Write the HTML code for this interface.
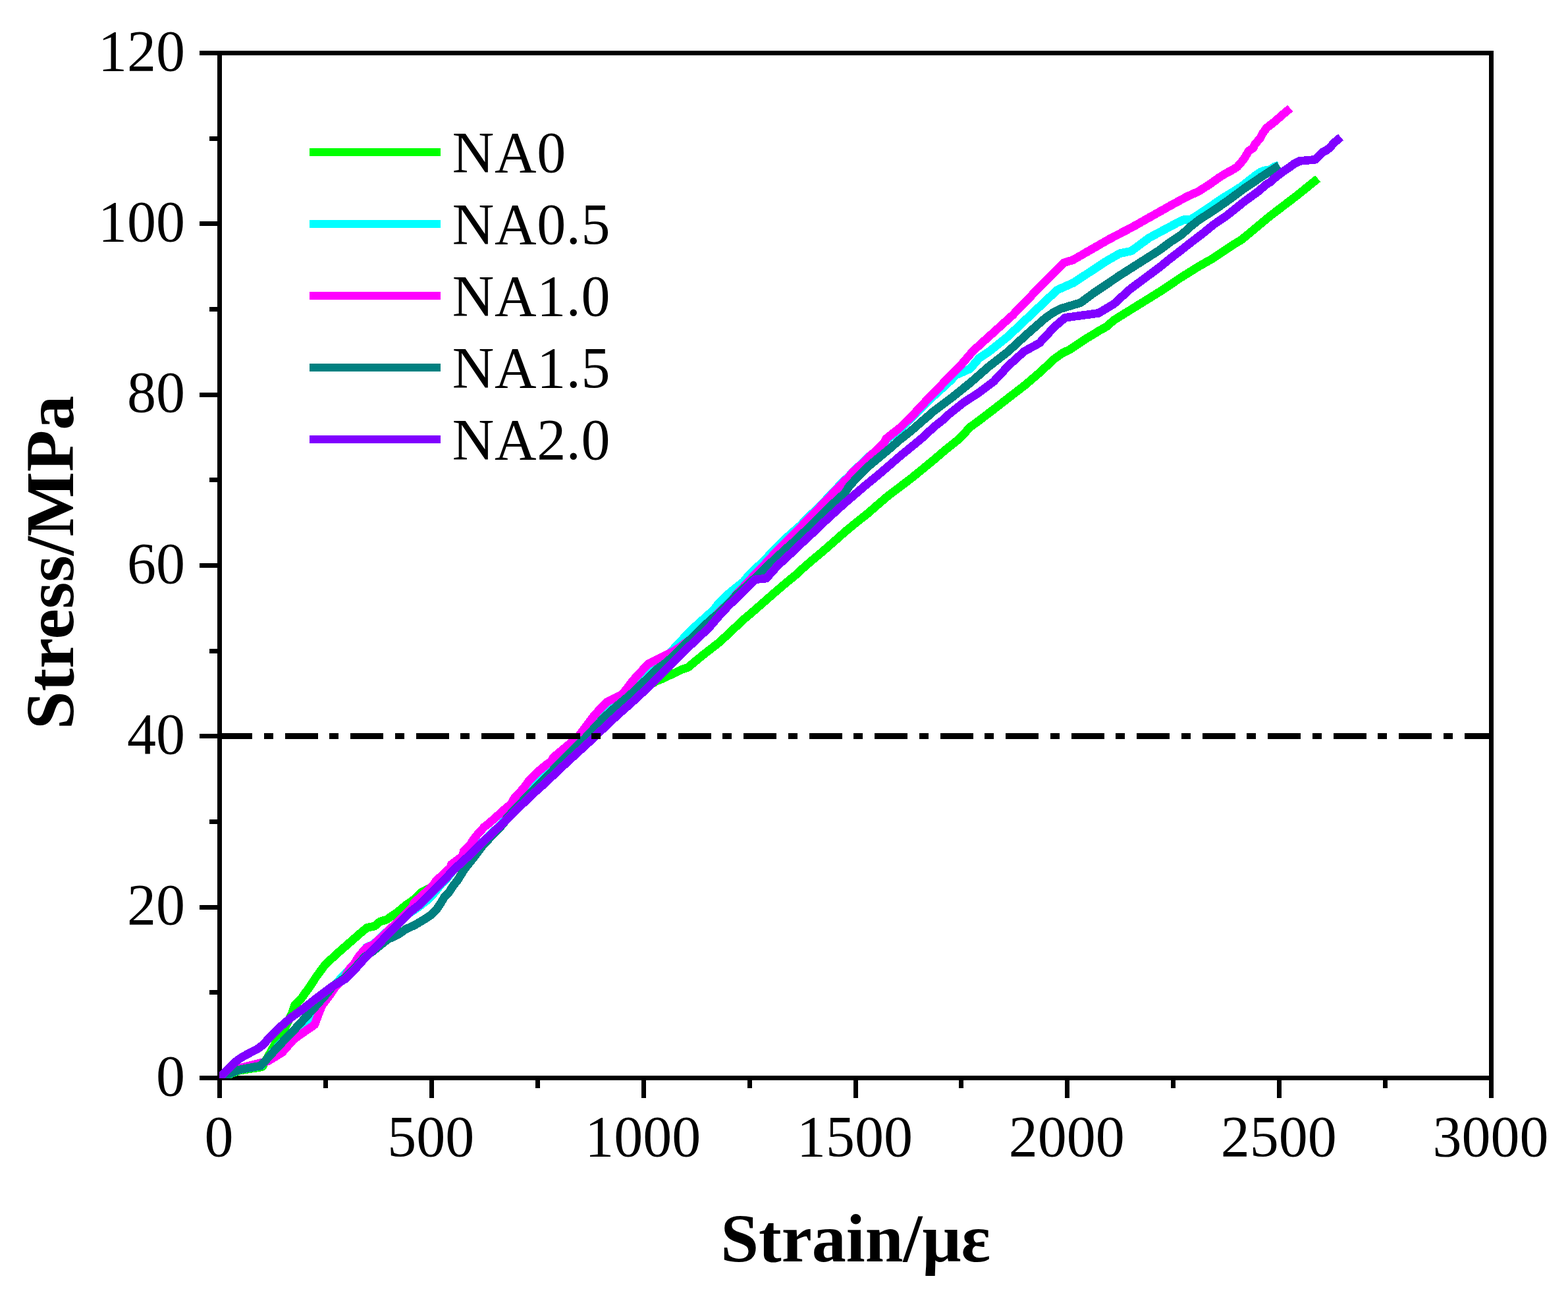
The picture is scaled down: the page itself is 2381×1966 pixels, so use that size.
<!DOCTYPE html>
<html lang="en">
<head>
<meta charset="utf-8">
<title>Stress-strain curves</title>
<style>
html,body{margin:0;padding:0;background:#fff;}
body{width:2381px;height:1966px;overflow:hidden;}
svg{display:block;}
text{font-family:"Liberation Serif","DejaVu Serif",serif;fill:#000;}
.tk{font-size:88px;}
.lb{font-size:104px;font-weight:bold;}
</style>
</head>
<body>
<svg width="2381" height="1966" viewBox="0 0 2381 1966">
<defs><clipPath id="plot"><rect x="333" y="77" width="1935" height="1560"/></clipPath></defs>
<rect x="0" y="0" width="2381" height="1966" fill="#ffffff"/>
<g fill="#000" shape-rendering="crispEdges">
<rect x="330" y="77" width="1938" height="7"/>
<rect x="330" y="1633" width="1938" height="7"/>
<rect x="330" y="77" width="7" height="1563"/>
<rect x="2261" y="77" width="7" height="1563"/>
<rect x="330" y="1636" width="7" height="31"/>
<rect x="491" y="1636" width="7" height="16"/>
<rect x="652" y="1636" width="7" height="31"/>
<rect x="813" y="1636" width="7" height="16"/>
<rect x="974" y="1636" width="7" height="31"/>
<rect x="1135" y="1636" width="7" height="16"/>
<rect x="1296" y="1636" width="7" height="31"/>
<rect x="1456" y="1636" width="7" height="16"/>
<rect x="1617" y="1636" width="7" height="31"/>
<rect x="1778" y="1636" width="7" height="16"/>
<rect x="1939" y="1636" width="7" height="31"/>
<rect x="2100" y="1636" width="7" height="16"/>
<rect x="2261" y="1636" width="7" height="31"/>
<rect x="303" y="1633" width="31" height="7"/>
<rect x="318" y="1503" width="16" height="7"/>
<rect x="303" y="1374" width="31" height="7"/>
<rect x="318" y="1244" width="16" height="7"/>
<rect x="303" y="1114" width="31" height="7"/>
<rect x="318" y="985" width="16" height="7"/>
<rect x="303" y="855" width="31" height="7"/>
<rect x="318" y="725" width="16" height="7"/>
<rect x="303" y="596" width="31" height="7"/>
<rect x="318" y="466" width="16" height="7"/>
<rect x="303" y="336" width="31" height="7"/>
<rect x="318" y="207" width="16" height="7"/>
<rect x="303" y="77" width="31" height="7"/>
</g>
<g clip-path="url(#plot)" fill="none" stroke-width="12.7" stroke-linejoin="round" stroke-linecap="butt" shape-rendering="crispEdges">
<polyline stroke="#00ff00" points="333.5,1636.5 363.3,1625.3 398.3,1619.7 416.4,1587.3 433.7,1558.8 443.5,1538.0 447.5,1526.0 456.6,1517.3 462.6,1508.6 469.1,1500.0 480.0,1483.2 493.0,1465.5 510.2,1449.1 527.1,1434.4 547.8,1416.2 557.3,1408.5 569.0,1405.9 577.2,1398.9 586.7,1396.4 596.2,1389.9 604.9,1383.8 616.1,1374.3 629.0,1365.4 639.4,1355.0 646.4,1351.5 674.0,1336.4 690.4,1319.1 709.2,1301.9 726.7,1284.6 744.9,1267.3 763.5,1250.0 772.7,1241.0 790.2,1223.7 808.1,1206.4 827.4,1189.1 845.6,1171.8 863.9,1154.6 882.9,1137.3 901.7,1120.0 921.2,1101.0 939.9,1083.7 959.5,1060.0 978.2,1045.0 997.0,1033.9 1005.7,1030.5 1023.1,1022.3 1035.7,1016.3 1044.7,1013.3 1055.1,1004.6 1065.5,996.0 1091.8,975.5 1109.1,959.7 1126.4,942.9 1143.7,928.2 1161.0,913.1 1178.3,898.0 1195.5,883.3 1212.8,869.2 1214.6,866.8 1231.8,851.8 1249.1,837.3 1266.4,822.3 1283.7,806.9 1301.0,792.7 1318.3,779.0 1335.5,763.9 1349.1,752.3 1366.4,739.3 1383.7,726.1 1401.0,712.1 1418.3,697.8 1435.5,683.1 1452.8,669.3 1460.0,662.8 1472.8,648.6 1486.1,639.0 1509.1,621.4 1532.2,603.4 1555.2,585.7 1578.3,566.0 1601.3,544.7 1612.8,536.4 1624.4,530.7 1647.4,515.4 1670.4,501.3 1680.0,496.1 1691.2,486.2 1763.2,441.6 1792.1,422.1 1820.9,404.1 1840.0,393.3 1875.1,370.0 1885.1,364.1 1927.6,328.8 1970.8,295.7 2001.1,271.2"/>
<polyline stroke="#00ffff" points="333.5,1636.5 363.3,1624.2 396.1,1618.1 420.7,1590.3 446.7,1563.5 455.3,1556.6 470.9,1545.8 473.4,1537.2 478.6,1528.5 490.0,1512.0 505.9,1497.9 526.2,1475.9 536.6,1466.4 556.5,1438.3 567.4,1433.5 579.4,1421.8 612.2,1392.5 633.1,1378.8 647.8,1367.5 658.2,1357.2 670.3,1341.6 676.3,1336.4 689.3,1320.0 708.5,1301.9 726.0,1284.6 744.2,1267.3 762.6,1250.0 767.8,1238.5 784.2,1221.2 800.6,1203.9 818.3,1186.6 834.8,1169.3 851.2,1152.1 868.5,1134.8 886.6,1117.5 915.6,1086.9 932.9,1071.3 953.7,1054.0 973.4,1033.2 981.2,1026.3 994.1,1013.3 1005.2,1003.7 1012.5,995.6 1019.4,989.5 1023.7,984.3 1049.0,957.2 1057.6,949.4 1083.6,926.0 1092.2,914.8 1106.0,901.8 1116.4,893.2 1129.4,882.8 1135.4,875.1 1143.2,867.3 1158.7,852.6 1161.3,850.0 1181.3,828.8 1199.1,812.0 1215.7,797.5 1230.3,781.9 1239.8,774.1 1254.5,758.5 1269.2,743.0 1282.1,729.3 1288.6,724.1 1294.7,716.3 1311.1,701.6 1319.8,693.0 1328.4,685.9 1343.1,671.7 1345.7,668.0 1366.4,651.6 1375.9,643.0 1388.9,630.0 1410.9,607.5 1444.0,577.3 1451.2,569.4 1472.8,560.0 1487.2,543.5 1501.6,534.1 1530.4,511.0 1605.5,440.1 1630.0,429.3 1680.4,396.2 1700.6,384.7 1717.9,381.1 1745.2,360.9 1787.0,338.6 1797.8,333.5 1807.9,333.5 1830.4,318.8 1856.3,301.0 1871.2,292.1 1885.9,282.6 1906.7,266.2 1914.4,261.0 1920.5,258.8 1929.1,257.5 1935.2,253.2 1942.1,250.6"/>
<polyline stroke="#ff00ff" points="333.5,1636.5 363.3,1621.8 390.5,1614.9 406.9,1610.9 428.5,1597.9 445.4,1578.5 451.8,1573.7 477.8,1555.6 479.9,1549.7 488.6,1527.2 497.3,1515.2 502.5,1508.3 509.4,1498.2 523.2,1484.1 531.8,1469.4 536.6,1465.1 545.2,1451.5 556.5,1438.5 567.4,1434.2 579.4,1422.7 612.2,1391.6 626.9,1376.0 628.5,1371.0 638.8,1361.5 657.0,1345.1 662.2,1337.3 683.8,1317.4 685.5,1312.2 695.0,1305.3 701.9,1300.1 704.5,1291.5 714.9,1282.0 716.6,1277.7 725.3,1266.4 735.6,1255.2 742.5,1250.0 769.0,1226.3 775.9,1221.1 781.1,1211.6 794.9,1196.9 803.6,1184.8 817.4,1171.0 831.2,1159.8 838.1,1155.4 839.8,1150.2 855.4,1137.3 865.8,1128.6 874.4,1122.6 879.1,1117.2 887.7,1105.6 900.7,1088.4 904.5,1083.7 920.9,1066.2 945.4,1053.7 961.8,1032.4 984.0,1008.2 1023.7,988.1 1032.2,982.6 1049.0,970.1 1081.8,939.0 1109.5,913.1 1118.1,902.7 1129.4,890.6 1140.6,878.5 1151.0,867.3 1161.3,856.9 1167.4,850.0 1184.3,831.8 1201.6,814.5 1210.2,805.9 1217.2,799.0 1223.2,792.0 1231.8,783.4 1240.5,774.8 1255.2,759.2 1269.9,743.7 1275.1,738.5 1282.8,730.0 1288.6,724.8 1294.7,717.0 1311.1,702.3 1319.8,693.7 1328.4,685.9 1343.1,671.2 1345.7,666.0 1366.4,649.6 1375.9,640.1 1386.3,630.0 1410.9,603.7 1461.3,551.8 1477.2,533.1 1537.7,478.4 1576.0,438.7 1614.9,399.1 1629.3,394.7 1684.0,363.3 1720.0,344.5 1760.0,321.9 1781.6,309.8 1803.2,298.1 1820.5,290.4 1837.8,279.1 1849.9,270.5 1860.0,264.0 1873.0,257.1 1879.0,253.2 1888.5,242.0 1896.3,229.0 1903.6,224.3 1904.9,219.9 1914.0,209.1 1916.6,203.5 1923.5,194.0 1934.7,185.4 1948.6,173.3 1959.2,164.5"/>
<polyline stroke="#008080" points="333.5,1636.5 363.3,1624.0 396.1,1618.0 420.7,1590.7 447.5,1562.7 476.9,1530.4 497.0,1507.7 504.6,1497.5 523.6,1484.7 537.0,1471.7 553.5,1453.1 567.1,1443.5 588.0,1426.6 606.0,1417.9 616.1,1410.6 629.5,1404.6 642.5,1396.9 655.4,1388.3 663.6,1379.6 669.3,1371.0 674.6,1362.3 682.4,1353.7 687.8,1345.1 694.8,1336.4 705.6,1319.1 719.4,1301.9 732.3,1284.6 748.3,1267.3 764.9,1250.0 770.3,1241.0 786.7,1223.7 803.1,1206.4 820.8,1189.1 837.3,1171.8 853.7,1154.6 871.0,1137.3 889.1,1120.0 917.6,1088.9 934.9,1073.3 945.3,1064.7 955.7,1056.0 966.0,1046.5 976.4,1036.2 984.2,1029.3 997.1,1016.3 1009.2,1007.7 1021.3,997.3 1030.0,988.6 1038.6,980.0 1049.0,970.1 1066.3,952.8 1081.8,939.0 1092.2,930.4 1109.5,913.1 1118.1,903.6 1135.4,888.0 1151.0,873.3 1161.3,863.0 1175.2,850.0 1180.0,845.6 1193.0,833.5 1205.9,822.3 1223.2,805.9 1236.2,793.8 1244.8,784.3 1266.4,763.5 1282.8,748.6 1290.6,736.7 1314.6,711.4 1331.8,697.0 1349.1,682.7 1366.4,667.6 1383.7,654.0 1401.0,638.8 1411.4,630.0 1415.2,626.3 1444.0,604.7 1472.8,581.6 1501.6,556.4 1530.4,534.1 1559.3,507.4 1588.1,482.2 1599.1,474.7 1609.9,468.9 1640.8,459.6 1660.3,445.2 1702.0,417.1 1760.0,380.2 1777.3,367.3 1794.6,356.0 1808.4,343.5 1820.5,334.0 1846.4,317.2 1868.0,302.0 1889.6,286.0 1916.8,267.6 1942.5,251.1"/>
<polyline stroke="#8000ff" points="333.5,1636.5 355.9,1613.2 364.6,1606.7 373.2,1601.8 381.8,1597.2 390.5,1592.9 399.1,1586.4 407.8,1576.9 416.4,1567.8 425.1,1559.6 433.7,1551.9 442.3,1544.5 459.2,1532.4 480.0,1516.0 504.6,1497.5 523.6,1486.7 537.0,1473.7 553.5,1455.1 570.7,1438.3 588.5,1418.8 605.3,1402.4 622.6,1384.7 636.0,1374.3 639.2,1371.0 657.2,1353.7 674.0,1336.4 690.4,1319.1 709.2,1301.9 726.7,1284.6 744.9,1267.3 763.5,1250.0 772.7,1241.0 790.2,1223.7 808.1,1206.4 827.4,1189.1 845.6,1171.8 863.9,1154.6 882.9,1137.3 901.7,1120.0 921.2,1101.0 939.9,1083.7 959.5,1066.4 978.2,1049.1 995.9,1031.8 1012.8,1014.6 1030.1,997.3 1057.3,971.0 1076.0,953.7 1090.7,936.4 1106.7,919.1 1125.1,901.8 1138.1,888.9 1146.7,879.8 1163.6,878.1 1173.1,867.3 1181.0,858.6 1197.3,843.6 1214.6,827.2 1231.8,811.2 1249.1,794.6 1266.4,778.7 1283.7,763.0 1314.6,736.5 1331.8,722.5 1349.1,707.8 1366.4,692.7 1383.7,678.6 1401.0,664.3 1418.3,648.1 1435.5,634.5 1440.0,629.7 1463.0,611.3 1486.1,596.3 1509.1,579.0 1532.2,554.3 1555.2,533.5 1578.3,520.9 1601.3,496.1 1617.4,482.3 1647.4,478.2 1668.2,475.4 1691.2,461.7 1716.4,438.7 1760.0,406.3 1777.3,392.3 1796.3,377.7 1808.4,368.1 1826.5,354.3 1843.0,340.9 1863.7,326.7 1889.6,305.9 1911.4,290.0 1917.9,284.3 1922.7,280.0 1930.4,275.7 1932.6,272.6 1949.4,259.7 1956.8,254.9 1965.4,248.5 1973.6,244.4 1986.2,243.3 1997.0,242.4 2001.7,237.6 2007.8,231.2 2014.3,228.1 2019.9,223.8 2025.1,217.3 2035.9,208.3"/>
</g>
<path d="M333 1113h50v9h-50zM401 1113h14v9h-14zM433 1113h50v9h-50zM500 1113h14v9h-14zM532 1113h50v9h-50zM600 1113h14v9h-14zM632 1113h50v9h-50zM699 1113h14v9h-14zM731 1113h50v9h-50zM799 1113h14v9h-14zM831 1113h50v9h-50zM898 1113h14v9h-14zM930 1113h50v9h-50zM998 1113h14v9h-14zM1030 1113h50v9h-50zM1097 1113h14v9h-14zM1129 1113h50v9h-50zM1197 1113h14v9h-14zM1229 1113h50v9h-50zM1296 1113h14v9h-14zM1328 1113h50v9h-50zM1396 1113h14v9h-14zM1428 1113h50v9h-50zM1495 1113h14v9h-14zM1527 1113h50v9h-50zM1595 1113h14v9h-14zM1627 1113h50v9h-50zM1694 1113h14v9h-14zM1726 1113h50v9h-50zM1794 1113h14v9h-14zM1826 1113h50v9h-50zM1893 1113h14v9h-14zM1925 1113h50v9h-50zM1993 1113h14v9h-14zM2025 1113h50v9h-50zM2092 1113h14v9h-14zM2124 1113h50v9h-50zM2192 1113h14v9h-14zM2224 1113h41v9h-41z" fill="#000" shape-rendering="crispEdges"/>
<g class="tk" text-anchor="middle">
<text x="332.5" y="1755.3">0</text>
<text x="654.3" y="1755.3">500</text>
<text x="976.2" y="1755.3">1000</text>
<text x="1298.0" y="1755.3">1500</text>
<text x="1619.8" y="1755.3">2000</text>
<text x="1941.7" y="1755.3">2500</text>
<text x="2263.5" y="1755.3">3000</text>
</g>
<g class="tk" text-anchor="end">
<text x="281.0" y="1662.6">0</text>
<text x="281.0" y="1403.3">20</text>
<text x="281.0" y="1143.9">40</text>
<text x="281.0" y="884.6">60</text>
<text x="281.0" y="625.3">80</text>
<text x="281.0" y="365.9">100</text>
<text x="281.0" y="106.6">120</text>
</g>
<text class="lb" text-anchor="middle" x="1299.0" y="1915.0">Strain/με</text>
<text class="lb" text-anchor="middle" transform="translate(111.3 854.0) rotate(-90)">Stress/MPa</text>
<g stroke-width="12" shape-rendering="crispEdges">
<line x1="469.8" y1="230.7" x2="668.9" y2="230.7" stroke="#00ff00"/>
<line x1="469.8" y1="339.9" x2="668.9" y2="339.9" stroke="#00ffff"/>
<line x1="469.8" y1="449.0" x2="668.9" y2="449.0" stroke="#ff00ff"/>
<line x1="469.8" y1="557.9" x2="668.9" y2="557.9" stroke="#008080"/>
<line x1="469.8" y1="666.9" x2="668.9" y2="666.9" stroke="#8000ff"/>
</g>
<g class="tk" style="letter-spacing:0.65px">
<text x="686.8" y="260.7">NA0</text>
<text x="686.8" y="369.9">NA0.5</text>
<text x="686.8" y="479.0">NA1.0</text>
<text x="686.8" y="587.9">NA1.5</text>
<text x="686.8" y="696.9">NA2.0</text>
</g>
</svg>
</body>
</html>
